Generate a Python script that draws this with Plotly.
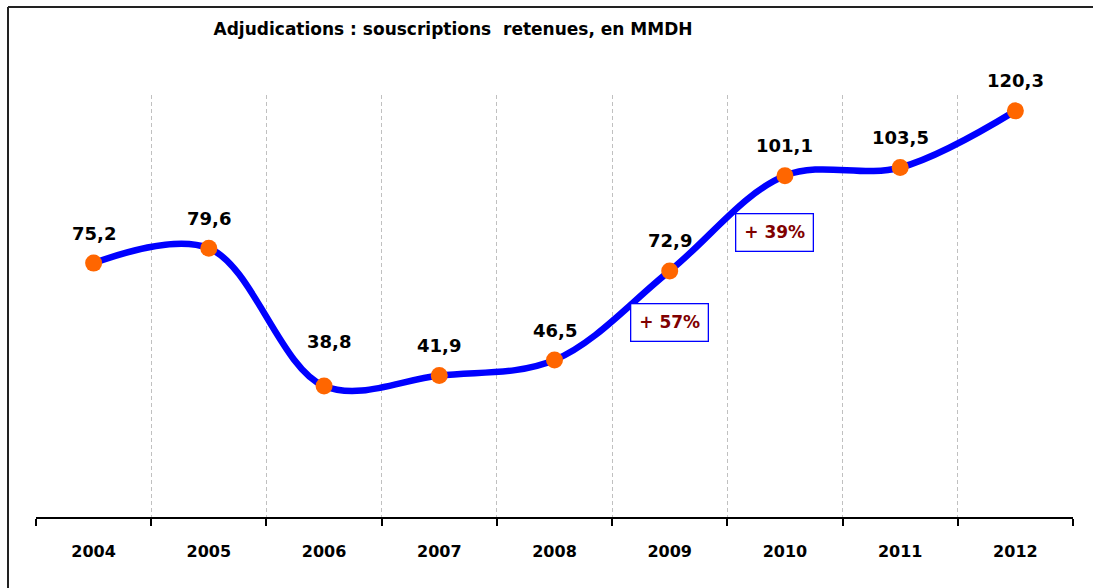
import plotly.graph_objects as go

years = ["2004", "2005", "2006", "2007", "2008", "2009", "2010", "2011", "2012"]
values = [75.2, 79.6, 38.8, 41.9, 46.5, 72.9, 101.1, 103.5, 120.3]
labels = ["75,2", "79,6", "38,8", "41,9", "46,5", "72,9", "101,1", "103,5", "120,3"]
growth_texts = ["+ 57%", "+ 39%"]

FONT = "DejaVu Sans"

fig = go.Figure()
fig.add_trace(go.Scatter(
    x=years, y=values, mode="lines+markers",
    line=dict(color="#0000FF", width=6.5, shape="spline", smoothing=1),
    marker=dict(color="#FF6600", size=17, line=dict(width=0)),
    hoverinfo="skip", showlegend=False,
))

# data labels above the points (2006 label sits a bit higher / right, as in the original)
for i, (v, lab) in enumerate(zip(values, labels)):
    fig.add_annotation(
        x=i, y=v, text="<b>%s</b>" % lab, showarrow=False,
        xanchor="center", yanchor="middle",
        yshift=45 if i == 2 else 30, xshift=5 if i == 2 else 0,
        font=dict(family=FONT, size=18, color="black"),
    )

# growth boxes
for txt, px_, py_ in zip(growth_texts, [0.611, 0.712], [0.460, 0.675]):
    fig.add_annotation(
        xref="paper", yref="paper", x=px_, y=py_, text="<b>%s</b>" % txt,
        xanchor="center", yanchor="middle",
        showarrow=False, font=dict(family=FONT, size=17, color="#800000"),
        bordercolor="#0000FF", borderwidth=1.3, borderpad=8, bgcolor="white",
    )

# outer frame (only top and left edges visible)
fig.add_shape(type="line", xref="paper", yref="paper", x0=-0.027, x1=1.05, y0=1.2085, y1=1.2085,
              line=dict(color="#222", width=2))
fig.add_shape(type="line", xref="paper", yref="paper", x0=-0.027, x1=-0.027, y0=-0.25, y1=1.2085,
              line=dict(color="#222", width=2))

fig.update_layout(
    width=1093, height=588,
    margin=dict(l=36, r=20, t=95, b=71),
    paper_bgcolor="white", plot_bgcolor="white",
    title=dict(text="<b>Adjudications : souscriptions  retenues, en MMDH</b>",
               x=0.4145, xanchor="center", xref="container",
               y=1 - 29 / 588, yanchor="middle",
               font=dict(family=FONT, size=17, color="black")),
    font=dict(family=FONT),
)
fig.update_xaxes(
    type="category", range=[-0.5, 8.5], tickson="boundaries",
    showline=True, linecolor="black", linewidth=2,
    ticks="outside", ticklen=7, tickwidth=2, tickcolor="black",
    showgrid=True, gridcolor="#C0C0C0", griddash="4px,3px", gridwidth=1.3,
    tickfont=dict(family=FONT, size=16, color="black", weight="bold"),
    ticklabelstandoff=19,
)
fig.update_yaxes(range=[0, 125], visible=False, showgrid=False, zeroline=False)

fig.write_html("out.html", config={"displayModeBar": False},
               post_script="document.body.style.margin='0';")
